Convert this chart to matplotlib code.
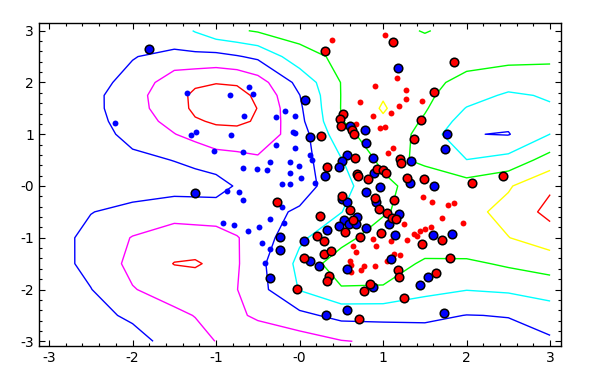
import numpy as np
import matplotlib
matplotlib.use("Agg")
import matplotlib.pyplot as plt
from matplotlib.ticker import MultipleLocator, FixedLocator, FixedFormatter

# ---- decision-function grid ----
x_grid = [-3.0, -2.5, -2.0, -1.5, -1.25, -1.0, -0.75, -0.5, 0.0, 0.5, 1.0, 1.5, 2.0, 2.5, 3.0]
y_grid = [-3.0, -2.5, -2.0, -1.5, -1.0, -0.5, 0.0, 0.5, 1.0, 1.25, 1.5, 1.75, 2.0, 2.5, 3.0]
z_rows = [
    [-1.4, -1.6, -1.7, -2.31, -2.67, -3.02, -3.2, -3.4, -3.5, -3.05, -2.86, -2.5, -2.3, -2.3, -2.15],
    [-1.4, -1.75, -2.14, -2.8, -3.03, -3.25, -3.1, -2.9, -2.25, -1.71, -1.7, -1.8, -2.02, -1.97, -1.5],
    [-1.5, -1.97, -2.95, -3.4, -3.45, -3.5, -3.02, -2.36, -0.95, -0.1, -0.15, -0.7, -0.97, -0.85, -0.6],
    [-1.5, -2.31, -3.25, -4.03, -4.1, -3.8, -3.1, -2.3, -0.75, 0.64, 0.7, -0.2, -0.2, 0.15, 0.48],
    [-1.55, -2.28, -3.05, -3.5, -3.45, -3.4, -3.05, -2.6, -1.15, -0.4, 0.65, 0.8, 0.85, 0.98, 1.5],
    [-1.6, -1.97, -2.3, -2.6, -2.55, -2.5, -2.45, -2.4, -1.85, -1.02, -0.15, 0.68, 0.7, 1.3, 2.3],
    [-1.3, -1.4, -1.5, -1.6, -1.6, -1.6, -2.1, -2.6, -2.5, -1.31, -0.27, 0.5, 0.45, 0.9, 1.85],
    [-1.4, -1.6, -1.8, -2.02, -2.2, -2.5, -2.68, -2.85, -2.45, -1.05, 0.25, -0.15, -0.98, -0.66, 0.44],
    [-1.5, -1.6, -2.27, -2.97, -3.33, -3.7, -3.65, -3.6, -2.5, -0.35, 0.65, -0.32, -1.96, -2.05, -0.99],
    [-1.55, -1.65, -2.48, -3.32, -3.9, -4.11, -4.2, -3.89, -2.27, -0.05, 0.85, -0.13, -1.45, -1.8, -1.2],
    [-1.6, -1.7, -2.63, -3.55, -4.2, -4.8, -4.6, -3.97, -2.16, 0.04, 1.1, 0.09, -1.05, -1.4, -1.1],
    [-1.6, -1.7, -2.64, -3.64, -4.2, -4.45, -4.3, -3.83, -2.02, 0.03, 0.92, 0.2, -0.59, -1.15, -0.9],
    [-1.6, -1.8, -2.18, -3.7, -3.83, -3.95, -3.9, -3.45, -1.69, 0.035, 0.6, 0.3, -0.3, -0.6, -0.5],
    [-1.7, -1.85, -1.97, -2.2, -2.25, -2.3, -2.08, -1.8, -0.42, 0.24, 0.5, 0.45, 0.4, 0.3, 0.2],
    [-1.7, -1.7, -1.6, -1.5, -0.93, -0.36, -0.13, 0.10, 0.45, 0.5, 0.3, -0.05, 0.3, 0.5, 0.6],
]
contour_levels = [-4, -3, -2, -1, 0, 1, 2]
contour_colors = ['#ff0000', '#ff00ff', '#0000ff', '#00ffff', '#00ff00', '#ffff00', '#ff0000']

# ---- points ----
small_blue_x = [-2.21, -1.35, -0.83, -0.60, -0.56, -0.66, -1.30, -1.24, -0.82, -1.02, -0.68, -0.28, -0.18,
                -0.06, -0.08, -0.05, -0.28, -0.05, -0.68, -0.51, -0.39, -0.35, -0.12, -0.11, -0.01, 0.02,
                0.12, 0.15, 0.19, -0.21, -0.12, -0.87, -0.73, -0.68, -0.21, -0.36, -0.92, -0.79, -0.62,
                -0.49, -0.19, -0.45, -0.36, -0.42]
small_blue_y = [1.22, 1.80, 1.76, 1.91, 1.78, 1.36, 0.99, 1.04, 0.99, 0.68, 0.65, 1.33, 1.45,
                1.35, 1.04, 1.02, 0.79, 0.73, 0.35, 0.33, 0.31, 0.46, 0.47, 0.26, 0.38, 0.15,
                0.59, 0.50, 0.05, 0.04, 0.04, -0.10, -0.11, -0.27, -0.41, -0.63, -0.71, -0.76, -0.86,
                -0.80, -0.72, -1.11, -1.22, -1.49]

small_red_x = [0.39, 1.02, 1.17, 0.90, 1.28, 1.28, 0.72, 1.46, 1.19, 1.10, 0.88, 1.02, 0.96, 0.67,
               1.12, 1.06, 1.48, 1.59, 1.78, 1.85, 1.71, 1.96, 1.25, 1.37, 1.40, 1.44, 1.50, 1.57,
               1.29, 1.10, 0.88, 0.92, 0.64, 0.67, 0.60, 0.61, 0.62, 0.77, 0.74, 0.90, 1.05, 1.13, 1.20]
small_red_y = [2.83, 2.91, 2.09, 1.93, 1.86, 1.69, 1.63, 1.64, 1.55, 1.41, 1.36, 1.14, 1.13, 1.19,
               0.73, 0.63, -0.21, -0.31, -0.36, -0.33, -0.61, -0.71, -0.73, -0.93, -0.97, -0.87, -0.84, -0.80,
               -1.05, -1.07, -1.03, -1.16, -1.16, -1.28, -1.45, -1.53, -1.66, -1.54, -1.63, -1.54, -1.45, -1.32, -1.33]

sv_blue_x = [-1.80, -1.25, -0.24, -0.24, -0.35, 0.07, 0.13, 0.60, 0.78, 0.80, 1.18, 1.76, 1.74, 0.57,
             0.51, 0.47, 0.30, 0.88, 0.89, 0.96, 1.33, 1.32, 1.61, 0.80, 0.51, 0.57, 0.92, 1.19, 1.07,
             1.14, 0.33, 0.53, 0.47, 0.59, 0.69, 0.68, 0.80, 0.05, 0.13, 0.23, 0.57, 1.10, 0.88, 1.44,
             1.54, 1.73, 0.32, 0.57, 1.60, 1.83]
sv_blue_y = [2.65, -0.14, -0.99, -1.24, -1.78, 1.66, 0.94, 1.16, 1.09, 0.84, 2.27, 1.00, 0.72, 0.60,
             0.49, 0.37, 0.19, 0.55, 0.26, -0.01, 0.48, 0.06, 0.00, -0.11, -0.26, -0.31, -0.31, -0.55, -0.73,
             -0.95, -0.85, -0.66, -0.77, -0.74, -0.60, -0.74, -0.82, -1.07, -1.45, -1.54, -1.61, -1.41, -1.96, -1.91,
             -1.76, -2.45, -2.50, -2.39, -0.95, -0.92]

sv_red_x = [0.30, 1.12, 1.85, 1.61, 1.45, 1.37, 0.52, 0.48, 0.49, 0.63, 0.65, 0.26, 0.33, 0.66, 0.69,
            0.70, 0.93, 1.00, 1.03, 0.82, 1.20, 1.22, 1.29, 1.49, 2.06, 2.43, 0.51, 0.60, 0.25, 0.21,
            0.29, 0.90, 0.95, 1.13, 1.05, 1.11, 1.16, 0.64, 0.54, 0.98, 0.72, 1.46, 1.70, 0.05, 0.29,
            0.38, 0.35, 0.33, -0.03, -0.27, 1.18, 1.19, 0.84, 0.77, 1.25, 1.63, 1.80, 0.71]
sv_red_y = [2.60, 2.78, 2.39, 1.82, 1.27, 0.91, 1.40, 1.29, 1.16, 1.09, 1.01, 0.97, 0.36, 0.55, 0.24,
            0.19, 0.33, 0.30, 0.25, 0.14, 0.52, 0.45, 0.16, 0.13, 0.05, 0.20, -0.19, -0.47, -0.57, -0.97,
            -1.06, -0.24, -0.44, -0.27, -0.53, -0.62, -0.64, -0.66, -0.89, -0.91, -0.98, -1.12, -1.05, -1.40, -1.31,
            -1.26, -1.73, -1.84, -1.99, -0.31, -1.62, -1.76, -1.90, -2.03, -2.16, -1.68, -1.39, -2.57]

x_ticks = [-3, -2, -1, 0, 1, 2, 3]
x_tick_labels = ['-3', '-2', '-1', '-0', '1', '2', '3']
y_ticks = [-3, -2, -1, 0, 1, 2, 3]
y_tick_labels = ['-3', '-2', '-1', '-0', '1', '2', '3']

fig = plt.figure(figsize=(6.0, 3.7), dpi=100)
ax = fig.add_axes([0.065, 0.065, 0.870, 0.873])

X, Y = np.meshgrid(np.array(x_grid), np.array(y_grid))
Z = np.array(z_rows)
ax.contour(X, Y, Z, levels=contour_levels, colors=contour_colors, linewidths=1.0, zorder=1)

ax.scatter(small_blue_x, small_blue_y, s=18, c='#0000ff', linewidths=0, zorder=3)
ax.scatter(small_red_x, small_red_y, s=18, c='#ff0000', linewidths=0, zorder=3)
ax.scatter(sv_blue_x, sv_blue_y, s=38, c='#0000ff', edgecolors='black', linewidths=1.1, zorder=4)
ax.scatter(sv_red_x, sv_red_y, s=38, c='#ff0000', edgecolors='black', linewidths=1.1, zorder=4)

ax.set_xlim(-3.12, 3.13)
ax.set_ylim(-3.09, 3.15)

ax.xaxis.set_major_locator(FixedLocator(x_ticks))
ax.xaxis.set_major_formatter(FixedFormatter(x_tick_labels))
ax.yaxis.set_major_locator(FixedLocator(y_ticks))
ax.yaxis.set_major_formatter(FixedFormatter(y_tick_labels))
ax.xaxis.set_minor_locator(MultipleLocator(0.2))
ax.yaxis.set_minor_locator(MultipleLocator(0.2))
ax.tick_params(which='both', direction='in', top=True, right=True, width=0.8, colors='black')
ax.tick_params(which='major', length=4, labelsize=10, pad=3.5)
ax.tick_params(which='minor', length=2)
for sp in ax.spines.values():
    sp.set_linewidth(1.0)
    sp.set_color('black')

fig.savefig('out.png', dpi=100)
